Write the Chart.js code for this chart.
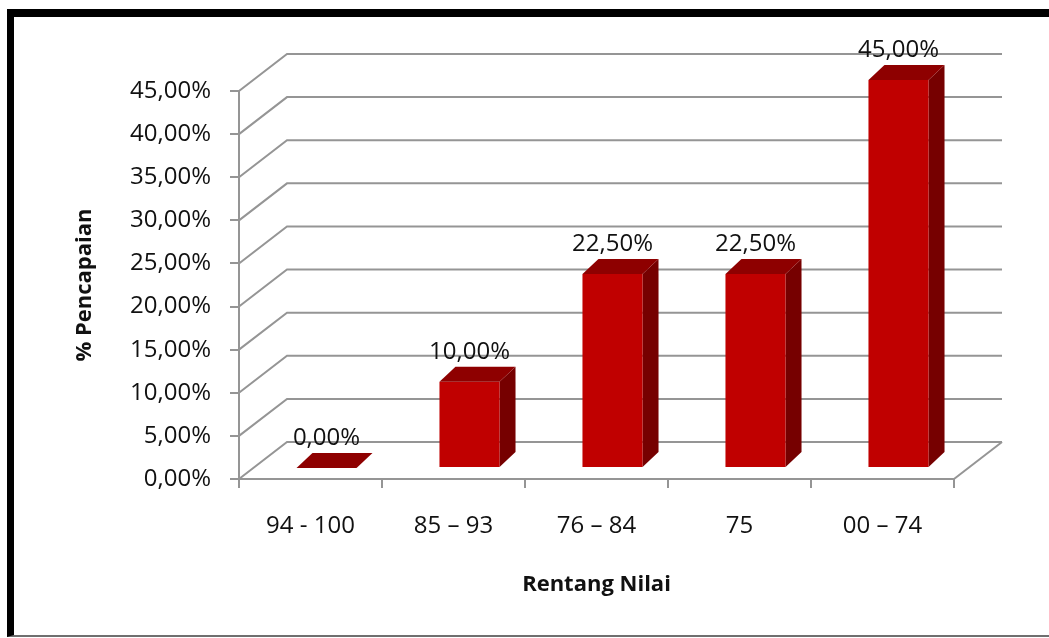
<!DOCTYPE html>
<html>
<head>
<meta charset="utf-8">
<title>Rentang Nilai</title>
<script src="https://cdn.jsdelivr.net/npm/chart.js@4/dist/chart.umd.min.js"></script>
<style>
html, body { margin: 0; padding: 0; background: #fff; overflow: hidden; }
#wrap { position: relative; width: 1049px; height: 638px; }
#frame {
    position: absolute; left: 7px; top: 9px; width: 1100px; height: 628px;
    box-sizing: border-box;
    border-top: 8px solid #000; border-left: 7px solid #000; border-bottom: 2px solid #6f6f6f;
}
#myChart { position: absolute; left: 0; top: 0; }
</style>
</head>
<body>
<div id="wrap">
    <div id="frame"></div>
    <canvas id="myChart" width="1049" height="638"></canvas>
</div>
<script>
// data
var categories = ["94 - 100", "85 \u2013 93", "76 \u2013 84", "75", "00 \u2013 74"];
var percentages = [0, 10, 22.5, 22.5, 45];
var yMin = 0, yMax = 45, yStep = 5;

// 3d look
var wallDX = 48, wallDY = 37;      // back wall offset
var barShiftX = 16, barShiftY = 11; // bar front face sits a little behind the floor edge
var barDX = 16, barDY = 15;         // bar depth
var gridColor = '#959595';
var textColor = '#111';

function pct(v) {
    return Number(v).toFixed(2).replace('.', ',') + '%';
}

// gridlines on the back wall + the floor
var walls = {
    id: 'walls',
    beforeDatasetsDraw: function(chart) {
        var ctx = chart.ctx, area = chart.chartArea, y = chart.scales.y;
        ctx.save();
        ctx.strokeStyle = gridColor;
        ctx.lineWidth = 2;
        y.ticks.forEach(function(t) {
            var py = y.getPixelForValue(t.value);
            ctx.beginPath();
            ctx.moveTo(area.left, py);
            ctx.lineTo(area.left + wallDX, py - wallDY);
            ctx.lineTo(area.right + wallDX, py - wallDY);
            ctx.stroke();
        });
        ctx.beginPath();
        ctx.moveTo(area.right, area.bottom);
        ctx.lineTo(area.right + wallDX, area.bottom - wallDY);
        ctx.stroke();
        ctx.restore();
    }
};

// draws the boxes and their value labels
var bars3d = {
    id: 'bars3d',
    afterDatasetsDraw: function(chart) {
        var ctx = chart.ctx;
        var meta = chart.getDatasetMeta(0);
        ctx.save();
        meta.data.forEach(function(bar, i) {
            var p = bar.getProps(['x', 'y', 'base', 'width'], true);
            var l = p.x - p.width / 2 + barShiftX;
            var r = l + p.width;
            var top = p.y - barShiftY;
            var bot = p.base - barShiftY;

            // side
            ctx.fillStyle = '#760000';
            ctx.beginPath();
            ctx.moveTo(r, top);
            ctx.lineTo(r + barDX, top - barDY);
            ctx.lineTo(r + barDX, bot - barDY);
            ctx.lineTo(r, bot);
            ctx.closePath();
            ctx.fill();

            // front
            ctx.fillStyle = '#c00000';
            ctx.fillRect(l, top, p.width, bot - top);

            // top
            ctx.fillStyle = '#8e0000';
            ctx.beginPath();
            ctx.moveTo(l, top);
            ctx.lineTo(r, top);
            ctx.lineTo(r + barDX, top - barDY);
            ctx.lineTo(l + barDX, top - barDY);
            ctx.closePath();
            ctx.fill();

            ctx.fillStyle = textColor;
            ctx.font = "24px 'Open Sans'";
            ctx.textAlign = 'center';
            ctx.textBaseline = 'middle';
            ctx.fillText(pct(percentages[i]), (l + r) / 2, top - barDY - 15);
        });
        ctx.restore();
    }
};

Chart.defaults.font.family = "'Open Sans', sans-serif";

var ctx = document.getElementById('myChart').getContext('2d');
var chart = new Chart(ctx, {
    type: 'bar',
    data: {
        labels: categories,
        datasets: [{
            label: '% Pencapaian',
            data: percentages,
            backgroundColor: 'rgba(0,0,0,0)',
            borderWidth: 0,
            categoryPercentage: 1,
            barPercentage: 0.42
        }]
    },
    plugins: [walls, bars3d],
    options: {
        responsive: false,
        animation: false,
        layout: { padding: { left: 0, right: 95, top: 91, bottom: 0 } },
        plugins: {
            legend: { display: false },
            tooltip: { enabled: false }
        },
        scales: {
            x: {
                ticks: { color: textColor, font: { size: 24 }, padding: 24 },
                grid: { drawOnChartArea: false, drawTicks: true, tickLength: 9, color: gridColor, lineWidth: 2 },
                border: { display: true, color: gridColor, width: 2 },
                title: {
                    display: true, text: 'Rentang Nilai', color: textColor,
                    font: { size: 22, weight: 'bold' }, padding: { top: 0, bottom: 40 }
                },
                afterFit: function(s) { s.height = 159; }
            },
            y: {
                min: yMin, max: yMax,
                ticks: { stepSize: yStep, color: textColor, font: { size: 24 }, padding: 19, callback: pct },
                grid: { drawOnChartArea: false, drawTicks: true, tickLength: 9, color: gridColor, lineWidth: 2 },
                border: { display: true, color: gridColor, width: 2 },
                title: {
                    display: true, text: '% Pencapaian', color: textColor,
                    font: { size: 22, weight: 'bold' }, padding: { top: 72, bottom: 0 }
                },
                afterFit: function(s) { s.width = 239; }
            }
        }
    }
});
</script>
</body>
</html>
